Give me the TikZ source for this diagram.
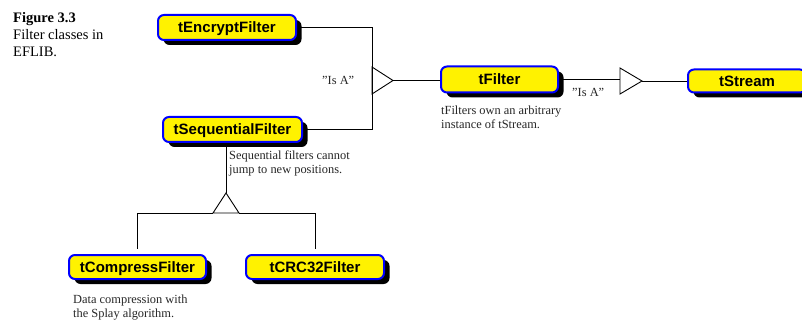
\documentclass[tikz,border=0pt]{standalone}
\usepackage{fontspec}
\setmainfont{Liberation Serif}
\newfontfamily\boxfont{Liberation Sans}
\usetikzlibrary{shadows,backgrounds}
\begin{document}
\begin{tikzpicture}[x=1pt,y=-1pt,
  cls/.style={draw=blue, line width=2pt, fill=yellow, rounded corners=6pt,
    minimum height=25pt, inner sep=0pt, text height=10.7pt, text depth=0pt,
    font=\boxfont\bfseries\fontsize{15}{18}\selectfont, text=black,
    drop shadow={shadow xshift=5.5pt, shadow yshift=-5pt, fill=black, opacity=1}},
  conn/.style={draw=black, line width=0.9pt},
  notetext/.style={font=\fontsize{12.4}{14}\selectfont, anchor=base west, inner sep=0pt, text=black!85},
  figtext/.style={font=\fontsize{14.5}{17}\selectfont, anchor=base west, inner sep=0pt, text=black}]
\useasboundingbox (0,0) rectangle (802,320);
\clip (0,0) rectangle (802,320);

% figure caption
\node[figtext] (f1) at (13,22.7) {\textbf{Figure 3.3}};
\node[figtext] (f2) at (13,39.5) {Filter classes in};
\node[figtext] (f3) at (13,57) {EFLIB.};

% class boxes
\node[cls, minimum width=138pt, minimum height=25pt] (enc) at (227,27.5) {tEncryptFilter};
\node[cls, minimum width=139pt, minimum height=25pt] (seq) at (232.5,129.5) {tSequentialFilter};
\node[cls, minimum width=117pt, minimum height=26pt] (flt) at (499.5,79.5) {tFilter};
\node[cls, minimum width=118pt, minimum height=23pt] (str) at (747,81) {tStream};
\node[cls, minimum width=137pt, minimum height=24pt] (cmp) at (137.5,267) {tCompressFilter};
\node[cls, minimum width=138pt, minimum height=24pt] (crc) at (315,267) {tCRC32Filter};

% connector points
\coordinate (ta) at (372,67);
\coordinate (tb) at (372,94);
\coordinate (tc) at (393,80.5);
\coordinate (ua) at (620,68);
\coordinate (ub) at (620,94);
\coordinate (uc) at (642,81);
\coordinate (va) at (226,193);
\coordinate (vb) at (213,213);
\coordinate (vc) at (239,213);
\coordinate (jl) at (137.5,213);
\coordinate (jr) at (315,213);
\coordinate (el) at (137.5,249);
\coordinate (er) at (315,249);

\begin{scope}[on background layer]
  \draw[conn] (enc.east) -- (enc.east -| ta) -- (seq.east -| ta) -- (seq.east);
  \draw[conn] (ta) -- (tb) -- (tc) -- cycle;
  \draw[conn] (tc) -- (flt.west |- tc);
  \draw[conn] (flt.east) -- (flt.east -| ua);
  \draw[conn] (ua) -- (ub) -- (uc) -- cycle;
  \draw[conn] (uc) -- (str.west |- uc);
  \draw[conn] (seq.south -| va) -- (va);
  \draw[conn] (va) -- (vb) -- (vc) -- cycle;
  \draw[conn] (vb) -- (jl) -- (el);
  \draw[conn] (vc) -- (jr) -- (er);
\end{scope}

% labels and notes
\node[notetext] (isa1) at (322,85) {''Is A''};
\node[notetext] (isa2) at (572,97) {''Is A''};
\node[notetext] (fc1) at (441,115) {tFilters own an arbitrary};
\node[notetext] (fc2) at (441,129) {instance of tStream.};
\node[notetext] (sc1) at (229,160) {Sequential filters cannot};
\node[notetext] (sc2) at (229,174) {jump to new positions.};
\node[notetext] (cc1) at (73,303) {Data compression with};
\node[notetext] (cc2) at (73,317) {the Splay algorithm.};
\end{tikzpicture}
\end{document}
